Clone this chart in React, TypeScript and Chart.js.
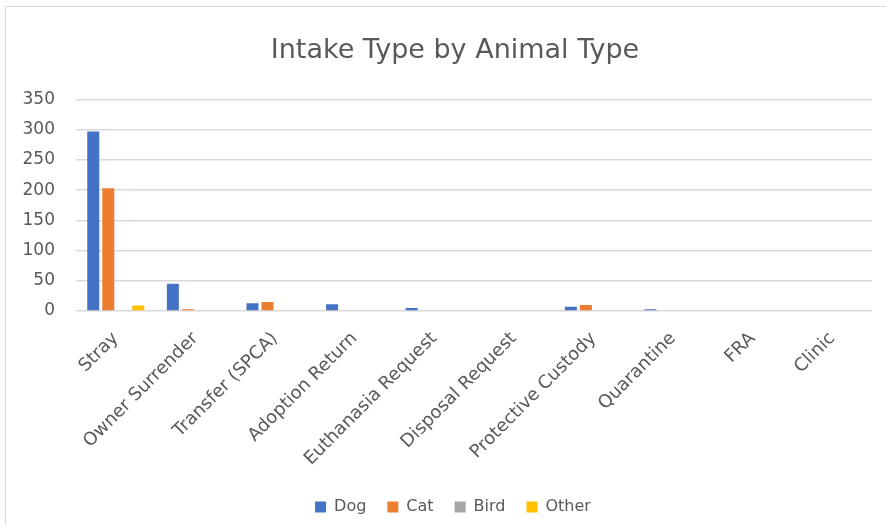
import React, { useEffect, useRef } from "react";
import { Chart, registerables } from "chart.js";

Chart.register(...registerables);

const categories = [
  "Stray",
  "Owner Surrender",
  "Transfer (SPCA)",
  "Adoption Return",
  "Euthanasia Request",
  "Disposal Request",
  "Protective Custody",
  "Quarantine",
  "FRA",
  "Clinic",
];
const dogValues = [297, 45, 13, 11, 5, 0, 7, 3, 0, 0];
const catValues = [203, 3, 15, 0, 0, 0, 10, 0, 0, 0];
const birdValues = [0, 0, 0, 0, 0, 0, 0, 0, 0, 0];
const otherValues = [9, 0, 0, 0, 0, 0, 0, 0, 0, 0];
const yTicks = [0, 50, 100, 150, 200, 250, 300, 350];

const FONT = "'DejaVu Sans', sans-serif";
const TEXT = "#595959";

const boxShift = {
  id: "boxShift",
  beforeDraw(chart: any) {
    const lg = chart.legend;
    if (lg && !lg._shifted) {
      lg.left += 17;
      lg.right += 17;
      lg._shifted = true;
    }
    const tt = chart.titleBlock;
    if (tt && !tt._shifted) {
      tt.left += 19;
      tt.right += 19;
      tt._shifted = true;
    }
  },
};

export default function App() {
  const ref = useRef<HTMLCanvasElement | null>(null);

  useEffect(() => {
    if (!ref.current) return;
    const chart = new Chart(ref.current, {
      type: "bar",
      data: {
        labels: categories,
        datasets: [
          { label: "Dog", data: dogValues, backgroundColor: "#4472C4" },
          { label: "Cat", data: catValues, backgroundColor: "#ED7D31" },
          { label: "Bird", data: birdValues, backgroundColor: "#A5A5A5" },
          { label: "Other", data: otherValues, backgroundColor: "#FFC000" },
        ],
      },
      plugins: [boxShift],
      options: {
        animation: false,
        responsive: false,
        maintainAspectRatio: false,
        layout: { padding: { left: 0, right: 14, top: 0, bottom: 0 } },
        datasets: {
          bar: { categoryPercentage: 0.755, barPercentage: 0.8 },
        },
        plugins: {
          title: {
            display: true,
            text: "Intake Type by Animal Type",
            color: TEXT,
            font: { family: FONT, size: 27, weight: "normal" },
            padding: { top: 35, bottom: 32 },
          },
          legend: {
            position: "bottom",
            labels: {
              color: TEXT,
              font: { family: FONT, size: 16 },
              boxWidth: 11,
              boxHeight: 11,
              padding: 21,
            },
          },
          tooltip: { enabled: false },
        },
        scales: {
          x: {
            grid: { display: false },
            border: { display: false },
            ticks: {
              color: TEXT,
              font: { family: FONT, size: 18 },
              minRotation: 45,
              maxRotation: 45,
              autoSkip: false,
              padding: 9,
            },
            afterFit: (scale: any) => {
              scale.height = 167;
            },
          },
          y: {
            min: 0,
            max: 350,
            afterBuildTicks: (scale: any) => {
              scale.ticks = yTicks.map((v) => ({ value: v }));
            },
            grid: { color: "#D9D9D9", lineWidth: 1.5, drawTicks: false },
            border: { display: false },
            ticks: {
              color: TEXT,
              font: { family: FONT, size: 17 },
              padding: 21,
            },
            afterFit: (scale: any) => {
              scale.width = 76;
            },
          },
        },
      },
    });
    return () => chart.destroy();
  }, []);

  return (
    <div style={{ position: "fixed", left: 0, top: 0, width: 886, height: 525, background: "#fff" }}>
      <canvas ref={ref} width={886} height={525} style={{ display: "block", width: 886, height: 525 }} />
      <div
        style={{
          position: "absolute",
          left: 5,
          top: 6,
          right: 0,
          bottom: 0,
          borderLeft: "1px solid #D9D9D9",
          borderTop: "1px solid #D9D9D9",
          pointerEvents: "none",
        }}
      />
    </div>
  );
}
